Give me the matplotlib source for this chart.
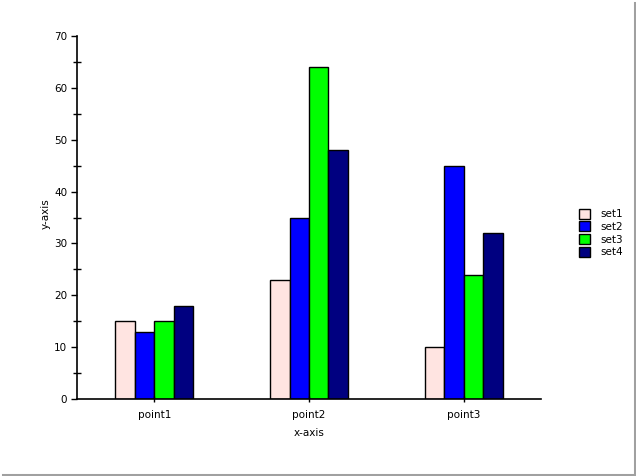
import numpy as np
import matplotlib
matplotlib.use("Agg")
import matplotlib.pyplot as plt
from matplotlib.ticker import MultipleLocator
from matplotlib.lines import Line2D

categories = ["point1", "point2", "point3"]
series_names = ["set1", "set2", "set3", "set4"]
set1 = [15, 23, 10]
set2 = [13, 35, 45]
set3 = [15, 64, 24]
set4 = [18, 48, 32]
colors = ["#FFE4E1", "#0000FF", "#00FF00", "#000080"]

W, H = 636, 476
fig = plt.figure(figsize=(W / 100, H / 100), dpi=100)
fig.patch.set_facecolor("white")

# axes box in pixels: left 77, right 541, top 36, bottom 399
ax = fig.add_axes([77 / W, 1 - 399 / H, (541 - 77) / W, (399 - 36) / H])

x = np.arange(len(categories))
bw = 0.126
values = [set1, set2, set3, set4]
for i, (name, vals, c) in enumerate(zip(series_names, values, colors)):
    ax.bar(x + (i - 1.5) * bw, vals, bw, color=c, edgecolor="black",
           linewidth=1.0, label=name)

ax.set_xlim(-0.5, 2.5)
ax.set_ylim(0, 70)
ax.set_xticks(x)
ax.set_xticklabels(categories)
ax.yaxis.set_major_locator(MultipleLocator(10))
ax.yaxis.set_minor_locator(MultipleLocator(5))
ax.tick_params(axis="y", which="major", direction="out", length=4, width=1, labelsize=7.5, pad=3)
ax.tick_params(axis="y", which="minor", direction="inout", length=6, width=1)
ax.tick_params(axis="x", direction="inout", length=4, width=1, labelsize=7.5, pad=6)
for s in ["top", "right"]:
    ax.spines[s].set_visible(False)
for s in ["left", "bottom"]:
    ax.spines[s].set_linewidth(1.2)

ax.set_xlabel("x-axis", fontsize=7.5, labelpad=6)
ax.set_ylabel("y-axis", fontsize=7.5)
ax.yaxis.set_label_coords(-0.057, 0.51)

leg = ax.legend(loc="center left", bbox_to_anchor=(575 / W, 1 - 233 / H),
                bbox_transform=fig.transFigure, frameon=False, fontsize=7.5,
                handlelength=1.05, handleheight=1.1, handletextpad=1.0,
                labelspacing=0.2, borderaxespad=0)

# gray shadow border at right and bottom
fig.add_artist(Line2D([1 - 1.5 / W, 1 - 1.5 / W], [0, 1 - 3 / H],
                      transform=fig.transFigure, color="#A0A0A0", linewidth=2.2))
fig.add_artist(Line2D([3 / W, 1], [1.5 / H, 1.5 / H],
                      transform=fig.transFigure, color="#A0A0A0", linewidth=2.2))

fig.savefig("out.png", dpi=100)
